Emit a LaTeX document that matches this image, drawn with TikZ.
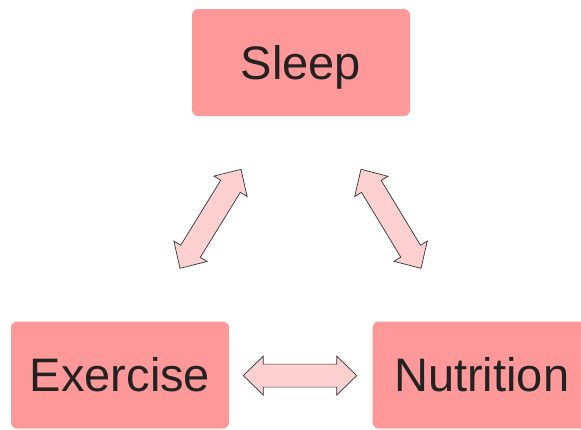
\documentclass[tikz,border=0pt]{standalone}
\usepackage{fontspec}
\setmainfont{Liberation Sans}
\usetikzlibrary{calc}
\definecolor{boxfill}{HTML}{FF9999}
\definecolor{arrfill}{HTML}{FFD0D0}
\definecolor{arrline}{HTML}{333333}
\definecolor{txt}{HTML}{222222}
\tikzset{
  topic/.style={fill=boxfill, draw=none, rounded corners=6pt, minimum width=218pt, minimum height=107pt,
    inner sep=0pt, text=txt, font=\fontsize{47}{56}\selectfont, text height=33.6pt, text depth=0pt},
  fatarrow/.style={fill=arrfill, draw=arrline, line width=0.7pt, line join=miter}
}
\newcommand\dblarrow[2]{%
  \draw[fatarrow] (#1)
    -- ($(#1)!20pt!(#2)!19.5pt!90:(#2)$)
    -- ($(#1)!20pt!(#2)!11.5pt!90:(#2)$)
    -- ($(#2)!20pt!(#1)!11.5pt!-90:(#1)$)
    -- ($(#2)!20pt!(#1)!19.5pt!-90:(#1)$)
    -- (#2)
    -- ($(#2)!20pt!(#1)!19.5pt!90:(#1)$)
    -- ($(#2)!20pt!(#1)!11.5pt!90:(#1)$)
    -- ($(#1)!20pt!(#2)!11.5pt!-90:(#2)$)
    -- ($(#1)!20pt!(#2)!19.5pt!-90:(#2)$)
    -- cycle;}
\begin{document}
\begin{tikzpicture}[x=1pt,y=-1pt]
  \useasboundingbox (0,0) rectangle (581,429);
  \clip (0,0) rectangle (581,429);
  \node[topic] (sleep) at (301,62.5) {Sleep};
  \node[topic] (exercise) at (120,375) {Exercise};
  \node[topic] (nutrition) at (481.7,375) {Nutrition};
  \coordinate (l1) at (180,268.3);
  \coordinate (l2) at (241,169.3);
  \coordinate (r1) at (361,169.3);
  \coordinate (r2) at (421,268.3);
  \coordinate (h1) at (243.3,375.6);
  \coordinate (h2) at (356.7,375.6);
  \dblarrow{l1}{l2}
  \dblarrow{r1}{r2}
  \dblarrow{h1}{h2}
\end{tikzpicture}
\end{document}
